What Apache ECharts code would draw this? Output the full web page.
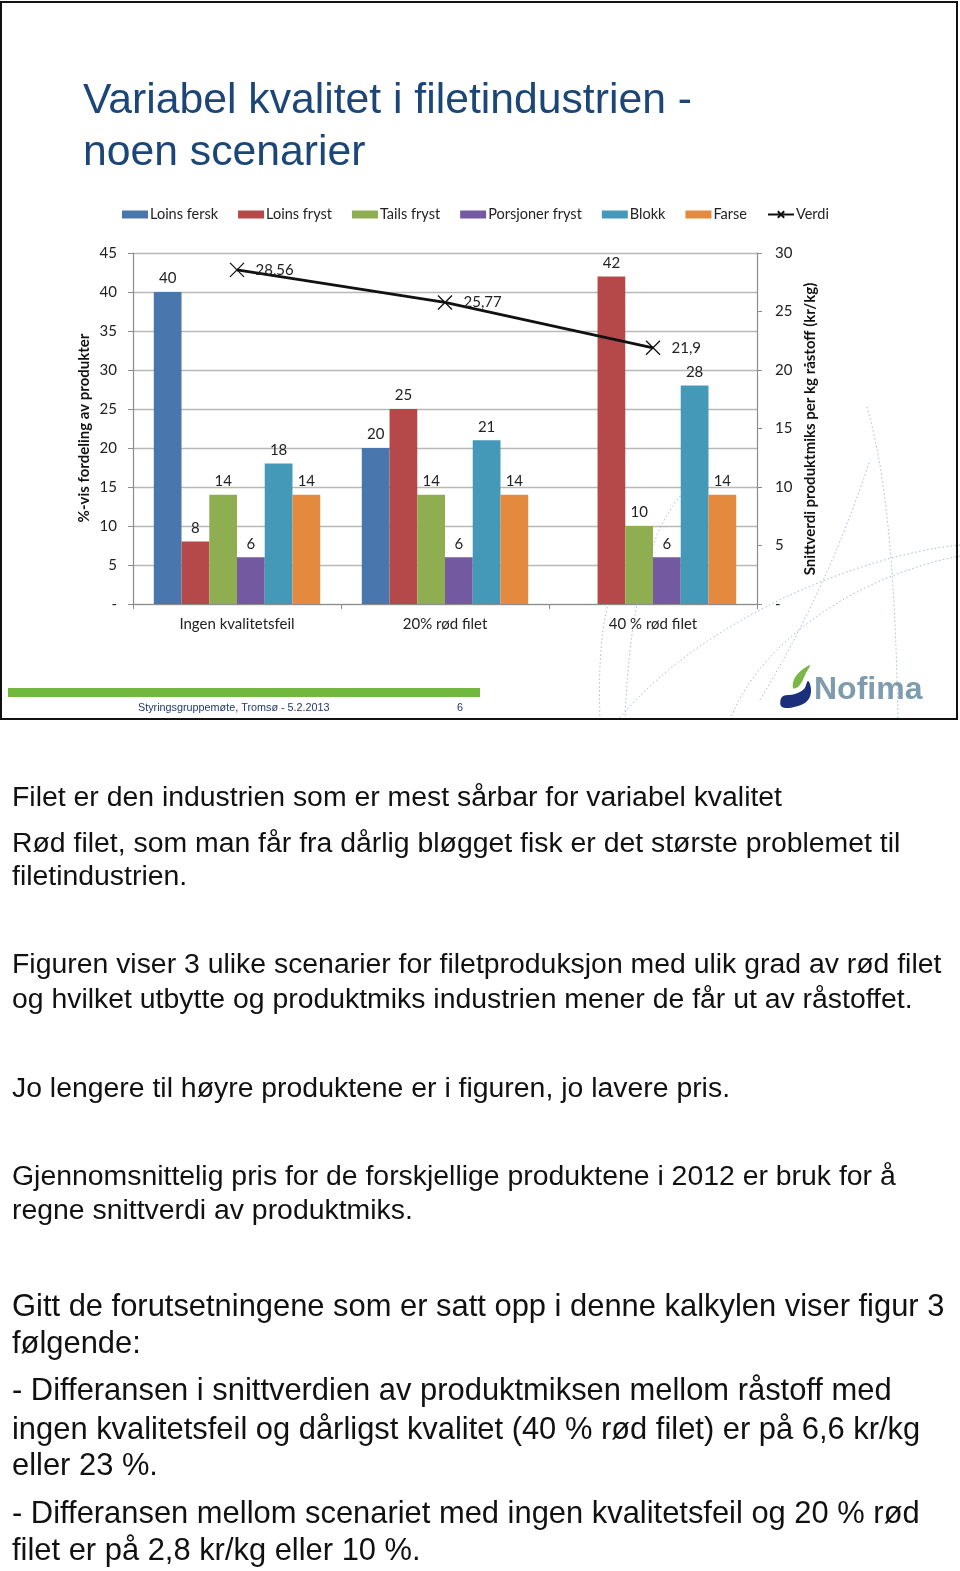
<!DOCTYPE html>
<html>
<head>
<meta charset="utf-8">
<script src="https://cdn.jsdelivr.net/npm/echarts@6/dist/echarts.min.js"></script>
<style>
html,body{margin:0;padding:0;background:#fff;}
#chart{width:960px;height:1571px;}
</style>
</head>
<body>
<div id="chart"></div>
<script>
// ---- data ----
const categories = ['Ingen kvalitetsfeil', '20% rød filet', '40 % rød filet'];
const seriesNames = ['Loins fersk', 'Loins fryst', 'Tails fryst', 'Porsjoner fryst', 'Blokk', 'Farse'];
const loinsFersk = [40, 20, null];
const loinsFryst = [8, 25, 42];
const tailsFryst = [14, 14, 10];
const porsjonerFryst = [6, 6, 6];
const blokk = [18, 21, 28];
const farse = [14, 14, 14];
const verdi = [28.56, 25.77, 21.9];
const lineName = 'Verdi';
const leftAxis = {min: 0, max: 45, interval: 5};
const rightAxis = {min: 0, max: 30, interval: 5};

const titleLines = ['Variabel kvalitet i filetindustrien -', 'noen scenarier'];
const leftAxisTitle = '%-vis fordeling av produkter';
const rightAxisTitle = 'Snittverdi produktmiks per kg råstoff (kr/kg)';
const footerText = 'Styringsgruppemøte, Tromsø - 5.2.2013';
const footerPage = '6';
const bodyLines = [
  'Filet er den industrien som er mest sårbar for variabel kvalitet',
  'Rød filet, som man får fra dårlig bløgget fisk er det største problemet til',
  'filetindustrien.',
  'Figuren viser 3 ulike scenarier for filetproduksjon med ulik grad av rød filet',
  'og hvilket utbytte og produktmiks industrien mener de får ut av råstoffet.',
  'Jo lengere til høyre produktene er i figuren, jo lavere pris.',
  'Gjennomsnittelig pris for de forskjellige produktene i 2012 er bruk for å',
  'regne snittverdi av produktmiks.',
  'Gitt de forutsetningene som er satt opp i denne kalkylen viser figur 3',
  'følgende:',
  '- Differansen i snittverdien av produktmiksen mellom råstoff med',
  'ingen kvalitetsfeil og dårligst kvalitet (40 % rød filet) er på 6,6 kr/kg',
  'eller 23 %.',
  '- Differansen mellom scenariet med ingen kvalitetsfeil og 20 % rød',
  'filet er på 2,8 kr/kg eller 10 %.'
];
const bodyBaselines = [808, 854, 887, 975, 1010, 1099, 1187, 1221, 1318, 1355, 1402, 1441, 1477, 1525, 1562];
const bodySizes = [28.4, 28.4, 28.4, 28.4, 28.4, 28.4, 28.4, 28.4, 30.9, 30.9, 30.9, 30.9, 30.9, 30.9, 30.9];

// ---- styling ----
const barData = [loinsFersk, loinsFryst, tailsFryst, porsjonerFryst, blokk, farse];
const colors = ['#4a76ae', '#b5494a', '#8fae52', '#7259a0', '#4399b7', '#e48a3f'];
const chartFont = 'Lato, "Open Sans", sans-serif';

const chart = echarts.init(document.getElementById('chart'), null, {renderer: 'canvas'});

const barSeries = barData.map((d, i) => ({
  name: seriesNames[i],
  type: 'bar',
  data: d,
  barGap: '0%',
  barCategoryGap: '20%',
  itemStyle: {color: colors[i]},
  label: {show: true, position: 'top', distance: 6, fontFamily: chartFont, fontSize: 15, color: '#222'},
  z: 3
}));

const lineSeries = {
  name: lineName,
  type: 'line',
  yAxisIndex: 1,
  data: verdi,
  symbol: 'path://M0,0L10,10M10,0L0,10',
  symbolSize: 14,
  itemStyle: {color: 'none', borderColor: '#111', borderWidth: 1.3},
  lineStyle: {color: '#111', width: 2.8},
  label: {show: true, position: 'right', distance: 9, fontFamily: chartFont, fontSize: 15, color: '#222',
    formatter: p => String(p.value).replace('.', ',')},
  z: 5
};

// decorative dotted curves
const dotted = {stroke: '#a9bccb', lineWidth: 1, lineDash: [1.5, 2.5], fill: null};
const curves = [
  [[867, 407], [885, 470], [895, 560], [898, 720]],
  [[960, 545], [860, 555], [700, 620], [618, 720]],
  [[960, 556], [860, 575], [760, 640], [730, 720]],
  [[683, 493], [640, 540], [628, 640], [625, 720]],
  [[600, 720], [598, 660], [602, 620], [612, 590]],
  [[760, 700], [820, 600], [850, 520], [870, 460]]
].map(c => ({
  type: 'bezierCurve', silent: true, z: 0,
  shape: {x1: c[0][0], y1: c[0][1], cpx1: c[1][0], cpy1: c[1][1], cpx2: c[2][0], cpy2: c[2][1], x2: c[3][0], y2: c[3][1]},
  style: dotted
}));

const graphics = [
  {type: 'rect', shape: {x: 1, y: 2, width: 956, height: 717}, style: {fill: null, stroke: '#111', lineWidth: 2}, z: 10},
  ...curves,
  {type: 'text', x: 83, y: 101, style: {text: titleLines[0], font: '42.7px "Liberation Sans", Arial, sans-serif', fill: '#1b4677', textVerticalAlign: 'middle'}},
  {type: 'text', x: 83, y: 153, style: {text: titleLines[1], font: '42.7px "Liberation Sans", Arial, sans-serif', fill: '#1b4677', textVerticalAlign: 'middle'}},
  {type: 'text', x: 84, y: 428, rotation: Math.PI / 2, style: {text: leftAxisTitle, font: 'bold 15px ' + chartFont, fill: '#111', textAlign: 'center', textVerticalAlign: 'middle'}},
  {type: 'text', x: 810, y: 429, rotation: Math.PI / 2, style: {text: rightAxisTitle, font: 'bold 15px ' + chartFont, fill: '#111', textAlign: 'center', textVerticalAlign: 'middle'}},
  {type: 'rect', shape: {x: 8, y: 688, width: 472, height: 9}, style: {fill: '#72b83e'}},
  {type: 'text', x: 138, y: 708, style: {text: footerText, font: '10.8px "Liberation Sans", Arial, sans-serif', fill: '#1f3a6e', textVerticalAlign: 'middle'}},
  {type: 'text', x: 457, y: 708, style: {text: footerPage, font: '10.8px "Liberation Sans", Arial, sans-serif', fill: '#1f3a6e', textVerticalAlign: 'middle'}},
  // Nofima logo
  {type: 'polygon', shape: {smooth: 0.4, points: [[782, 697], [795, 694], [804, 689], [808, 681], [811, 690], [808, 700], [798, 706], [782, 707]]}, style: {fill: '#1c2f7c'}},
  {type: 'polygon', shape: {smooth: 0.4, points: [[793, 688], [796, 676], [810, 665], [806, 673], [799, 686]]}, style: {fill: '#7ab648'}},
  {type: 'text', x: 814, y: 690, style: {text: 'Nofima', font: 'bold 32px "Liberation Sans", Arial, sans-serif', fill: '#7f9cae', textVerticalAlign: 'middle'}},
  ...bodyLines.map((t, i) => ({
    type: 'text', x: 12, y: bodyBaselines[i] - 0.35 * bodySizes[i],
    style: {text: t, font: bodySizes[i] + 'px "Liberation Sans", Arial, sans-serif', fill: '#111', textVerticalAlign: 'middle'}
  }))
];

const option = {
  backgroundColor: '#fff',
  animation: false,
  color: colors,
  textStyle: {fontFamily: chartFont},
  legend: {
    top: 202, left: 117,
    itemWidth: 26, itemHeight: 8, itemGap: 20,
    textStyle: {fontFamily: chartFont, fontSize: 14.5, color: '#222', padding: [0, 0, 0, -3]},
    data: [...seriesNames.map(n => ({name: n, icon: 'rect'})), {name: lineName}]
  },
  grid: {left: 133, right: 203, top: 253, bottom: 967, containLabel: false},
  xAxis: {
    type: 'category',
    data: categories,
    axisLine: {lineStyle: {color: '#8c8c8c', width: 1.2}},
    axisTick: {show: true, length: 5, lineStyle: {color: '#8c8c8c'}},
    axisLabel: {fontFamily: chartFont, fontSize: 15, color: '#222', margin: 13}
  },
  yAxis: [
    {
      type: 'value', min: leftAxis.min, max: leftAxis.max, interval: leftAxis.interval,
      axisLine: {show: true, lineStyle: {color: '#8c8c8c', width: 1.2}},
      axisTick: {show: true, length: 5, lineStyle: {color: '#8c8c8c'}},
      splitLine: {show: true, lineStyle: {color: '#b8b8b8', width: 1.3}},
      axisLabel: {fontFamily: chartFont, fontSize: 15, color: '#222', margin: 16,
        formatter: v => v === 0 ? '-' : String(v)}
    },
    {
      type: 'value', min: rightAxis.min, max: rightAxis.max, interval: rightAxis.interval,
      axisLine: {show: true, lineStyle: {color: '#8c8c8c', width: 1.2}},
      axisTick: {show: true, length: 5, lineStyle: {color: '#8c8c8c'}},
      splitLine: {show: false},
      axisLabel: {fontFamily: chartFont, fontSize: 15, color: '#222', margin: 18,
        formatter: v => v === 0 ? '-' : String(v)}
    }
  ],
  series: [...barSeries, lineSeries],
  graphic: {elements: graphics}
};
chart.setOption(option);
</script>
</body>
</html>
